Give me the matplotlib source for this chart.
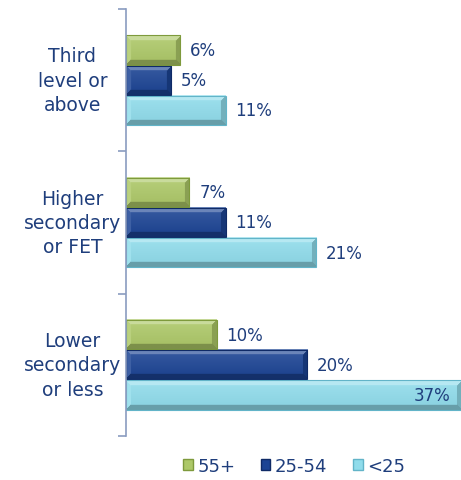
import numpy as np
import matplotlib.pyplot as plt
from matplotlib.patches import Patch
from matplotlib.colors import to_rgb

categories = ["Lower\nsecondary\nor less", "Higher\nsecondary\nor FET", "Third\nlevel or\nabove"]
series = ["55+", "25-54", "<25"]
val_55 = [10, 7, 6]
val_25_54 = [20, 11, 5]
val_u25 = [37, 21, 11]

colors = ["#ADC868", "#1C4494", "#90DCEB"]
edges = ["#7E9A3C", "#0F2A66", "#62B4C8"]
text_col = "#1F3E7C"

plt.rcParams["font.family"] = ["DejaVu Sans"]

fig = plt.figure(figsize=(4.61, 4.81), dpi=100)
ax = fig.add_axes([126 / 461, 44 / 481, 335 / 461, 427 / 481])

XMAX = 37
px_x = 335 / XMAX   # pixels per x unit
px_y = 427 / 3      # pixels per y unit


def bevel_img(w, hh, color, bw=5):
    # small pyramid bevel look like the office 3D bars
    nx = max(int(w * px_x), 2)
    ny = max(int(hh * px_y), 2)
    base = np.array(to_rgb(color))
    light = base + (1 - base) * 0.35
    dark = base * 0.72
    ii, jj = np.mgrid[0:ny, 0:nx]
    dt, db = ii, ny - 1 - ii
    dl, dr = jj, nx - 1 - jj
    d = np.stack([dt, db, dl, dr])
    m = d.argmin(axis=0)
    dmin = d.min(axis=0)
    # face: slight vertical gradient
    t = (ii / (ny - 1))[..., None]
    img = base + (1 - base) * 0.12 * (1 - t) - base * 0.05 * t
    edge_cols = [light, dark, base + (1 - base) * 0.15, base * 0.8]
    for k, c in enumerate(edge_cols):
        mask = (m == k) & (dmin < bw)
        img[mask] = c
    return np.clip(img, 0, 1)


y = np.arange(len(categories))
h = 0.212
offsets = [h, 0, -h]
data = [val_55, val_25_54, val_u25]

for vals, off, c, e in zip(data, offsets, colors, edges):
    bars = ax.barh(y + off, vals, height=h * 0.97, color=c, edgecolor=e, linewidth=0.8, zorder=3)
    for b, v in zip(bars, vals):
        x0, y0, w, hh = b.get_x(), b.get_y(), b.get_width(), b.get_height()
        ax.imshow(bevel_img(w, hh, c), extent=[x0, x0 + w, y0, y0 + hh],
                  aspect="auto", zorder=2.5, interpolation="bilinear")
        b.set_facecolor("none")
        yc = y0 + hh / 2
        if v >= 30:
            ax.text(v - 1.2, yc, f"{v}%", ha="right", va="center",
                    fontsize=12, color=text_col, zorder=4)
        else:
            ax.text(v + 1.1, yc, f"{v}%", ha="left", va="center",
                    fontsize=12, color=text_col, zorder=4)

for yi, cat in zip(y, categories):
    ax.text(-0.16, yi, cat, transform=ax.get_yaxis_transform(), ha="center",
            va="center", fontsize=13.5, color=text_col, linespacing=1.35)

ax.set_xlim(0, XMAX)
ax.set_ylim(-0.5, 2.5)
ax.set_yticks([-0.5, 0.5, 1.5, 2.5])
ax.set_yticklabels([])
ax.tick_params(axis="y", length=6, color="#8A9CC0", width=1.2)
ax.set_xticks([])
for s in ["top", "right", "bottom"]:
    ax.spines[s].set_visible(False)
ax.spines["left"].set_color("#8A9CC0")
ax.spines["left"].set_linewidth(1.2)
ax.spines["left"].set_zorder(5)

handles = [Patch(facecolor=c, edgecolor=e, label=s) for c, e, s in zip(colors, edges, series)]
fig.legend(handles=handles, loc="center", bbox_to_anchor=(294 / 461, 1 - 467 / 481),
           ncol=3, frameon=False, fontsize=13, handlelength=0.55, handleheight=0.55,
           handletextpad=0.25, columnspacing=1.4, labelcolor=text_col)

fig.savefig("out.png", dpi=100)
